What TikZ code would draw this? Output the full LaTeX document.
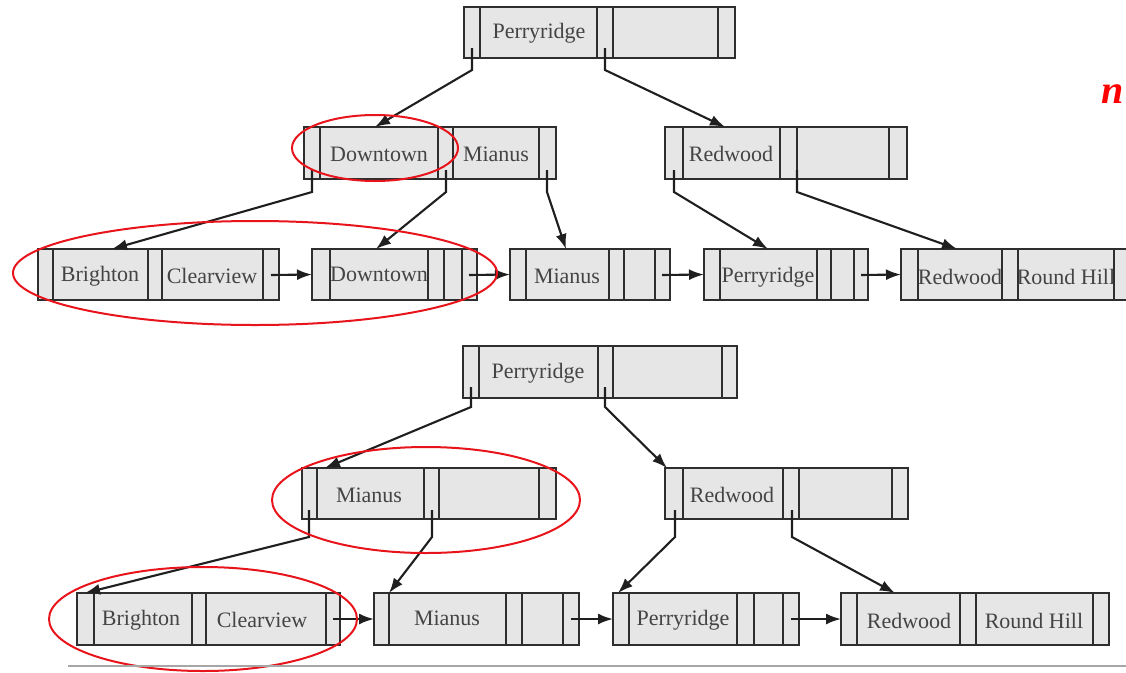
\documentclass[tikz,border=0pt]{standalone}
\usepackage{fontspec}
\setmainfont{Liberation Serif}
\usetikzlibrary{arrows.meta}

\definecolor{cellfill}{HTML}{E6E6E6}
\definecolor{cellline}{HTML}{2E2E2E}
\definecolor{keytext}{HTML}{444444}
\definecolor{mark}{HTML}{E8141B}

\tikzset{
  bbox/.style={draw=cellline, fill=cellfill, line width=2.2pt, inner sep=0pt, outer sep=0pt, anchor=north west},
  divider/.style={draw=cellline, line width=2.4pt},
  keylabel/.style={text=keytext, font=\fontsize{22}{25}\selectfont, inner sep=0pt},
  conn/.style={draw=black!88, line width=2.1pt, -{Latex[length=15pt,width=11pt]}},
  ring/.style={draw=mark, line width=2pt},
}

% one B+-tree node: name, left, top, right, bottom, divider positions
\newcommand\treenode[6]{%
  \node[bbox, minimum width={#4-#2}, minimum height={#5-#3}] (#1) at (#2,#3) {};
  \foreach \d in {#6} \draw[divider] (\d,#3) -- (\d,#5);
}

\begin{document}
\begin{tikzpicture}[x=1pt,y=-1pt]
\path[use as bounding box] (0,0) rectangle (1126,672);
\clip (0,0) rectangle (1126,672);

% ---------- upper tree ----------
\treenode{ur}{464}{7}{735}{58}{480,597,613,718}
\node[keylabel] (ur-k1) at (539,33) {Perryridge};

\treenode{ua}{304}{127}{556}{179}{320,438,453,539}
\node[keylabel] (ua-k1) at (379,154) {Downtown};
\node[keylabel] (ua-k2) at (496,154) {Mianus};

\treenode{ub}{665}{127}{907}{179}{683,780,797,889}
\node[keylabel] (ub-k1) at (731,154) {Redwood};

\treenode{ul1}{38}{249}{279}{300}{53,148,162,263}
\node[keylabel] (ul1-k1) at (100,276) {Brighton};
\node[keylabel] (ul1-k2) at (212,276) {Clearview};

\treenode{ul2}{312}{249}{477}{300}{330,428,444,462}
\node[keylabel] (ul2-k1) at (379,274) {Downtown};

\treenode{ul3}{510}{249}{670}{300}{526,609,624,655}
\node[keylabel] (ul3-k1) at (567,276) {Mianus};

\treenode{ul4}{704}{249}{868}{300}{720,817,831,854}
\node[keylabel] (ul4-k1) at (768,277) {Perryridge};

\treenode{ul5}{901}{249}{1140}{300}{918,1002,1018,1114}
\node[keylabel] (ul5-k1) at (960,277) {Redwood};
\node[keylabel] (ul5-k2) at (1066,277) {Round Hill};

% pointer stubs of the upper tree
\coordinate (ur-p1) at (472,48);
\coordinate (ur-p2) at (605,48);
\coordinate (ua-p1) at (312,170);
\coordinate (ua-p2) at (446,170);
\coordinate (ua-p3) at (547,170);
\coordinate (ub-p1) at (674,170);
\coordinate (ub-p2) at (797,170);

\draw[conn] (ur-p1) -- ++(0,22) -- ([xshift=71pt]ua.north west);
\draw[conn] (ur-p2) -- ++(0,22) -- ([xshift=60pt]ub.north west);
\draw[conn] (ua-p1) -- ++(0,22) -- ([xshift=74pt]ul1.north west);
\draw[conn] (ua-p2) -- ++(0,22) -- ([xshift=64pt]ul2.north west);
\draw[conn] (ua-p3) -- ++(0,22) -- ([xshift=56pt]ul3.north west);
\draw[conn] (ub-p1) -- ++(0,22) -- ([xshift=64pt]ul4.north west);
\draw[conn] (ub-p2) -- ++(0,22) -- ([xshift=56pt]ul5.north west);

% sibling links of the upper leaves
\coordinate (ul1-n) at (271,275);
\coordinate (ul2-n) at (469,275);
\coordinate (ul3-n) at (662,275);
\coordinate (ul4-n) at (861,275);
\draw[conn] (ul1-n) -- (ul2.west);
\draw[conn] (ul2-n) -- (ul3.west);
\draw[conn] (ul3-n) -- (ul4.west);
\draw[conn] (ul4-n) -- (ul5.west);

% ---------- lower tree ----------
\treenode{lr}{463}{346}{737}{398}{479,598,613,722}
\node[keylabel] (lr-k1) at (538,373) {Perryridge};

\treenode{la}{302}{468}{556}{519}{317,424,439,539}
\node[keylabel] (la-k1) at (369,495) {Mianus};

\treenode{lb}{665}{468}{908}{519}{683,783,799,892}
\node[keylabel] (lb-k1) at (732,495) {Redwood};

\treenode{ll1}{77}{593}{340}{645}{94,192,206,326}
\node[keylabel] (ll1-k1) at (141,620) {Brighton};
\node[keylabel] (ll1-k2) at (262,620) {Clearview};

\treenode{ll2}{374}{593}{579}{645}{389,506,522,563}
\node[keylabel] (ll2-k1) at (447,618) {Mianus};

\treenode{ll3}{613}{593}{799}{645}{629,737,754,783}
\node[keylabel] (ll3-k1) at (683,620) {Perryridge};

\treenode{ll4}{841}{593}{1109}{645}{857,960,976,1093}
\node[keylabel] (ll4-k1) at (909,621) {Redwood};
\node[keylabel] (ll4-k2) at (1034,621) {Round Hill};

% pointer stubs of the lower tree
\coordinate (lr-p1) at (471,387);
\coordinate (lr-p2) at (605,387);
\coordinate (la-p1) at (309,510);
\coordinate (la-p2) at (432,510);
\coordinate (lb-p1) at (675,510);
\coordinate (lb-p2) at (792,510);

\draw[conn] (lr-p1) -- ++(0,20) -- ([xshift=23pt]la.north west);
\draw[conn] (lr-p2) -- ++(0,20) -- ([xshift=2pt]lb.north west);
\draw[conn] (la-p1) -- ++(0,27) -- ([xshift=8pt]ll1.north west);
\draw[conn] (la-p2) -- ++(0,27) -- ([xshift=15pt]ll2.north west);
\draw[conn] (lb-p1) -- ++(0,27) -- ([xshift=5pt]ll3.north west);
\draw[conn] (lb-p2) -- ++(0,27) -- ([xshift=54pt]ll4.north west);

% sibling links of the lower leaves
\coordinate (ll1-n) at (333,619);
\coordinate (ll2-n) at (571,619);
\coordinate (ll3-n) at (791,619);
\draw[conn] (ll1-n) -- (ll2.west);
\draw[conn] (ll2-n) -- (ll3.west);
\draw[conn] (ll3-n) -- (ll4.west);

% ---------- highlighted groups ----------
\draw[ring] (375,148) ellipse [x radius=83, y radius=33];
\draw[ring] (255,273) ellipse [x radius=242, y radius=52];
\draw[ring] (426,500) ellipse [x radius=154, y radius=53];
\draw[ring] (203,619) ellipse [x radius=154, y radius=52];

% rule under the figure and the margin letter
\draw[black!35, line width=1.5pt] (68,666) -- (1126,666);
\node[text=red, font=\fontsize{40}{44}\selectfont\bfseries\itshape, anchor=base, inner sep=0pt] (tag) at (1113,103) {n};

\end{tikzpicture}
\end{document}
